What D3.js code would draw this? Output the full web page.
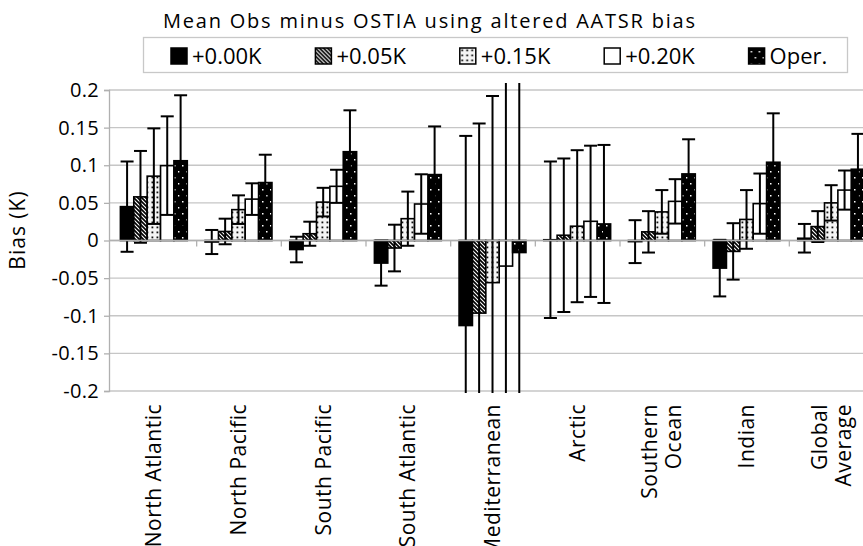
<!DOCTYPE html>
<html>
<head>
<meta charset="utf-8">
<script src="https://cdn.jsdelivr.net/npm/d3@7"></script>
<style>
  body { margin: 0; background: #fff; }
  text { font-family: "Open Sans", sans-serif; fill: #000; }
</style>
</head>
<body>
<svg id="chart"></svg>
<script>
// categories and tick labels
let categories = ["North Atlantic", "North Pacific", "South Pacific", "South Atlantic",
                  "Mediterranean", "Arctic", "Southern Ocean", "Indian", "Global Average"]
let categoryLines = [["North Atlantic"], ["North Pacific"], ["South Pacific"], ["South Atlantic"],
                     ["Mediterranean"], ["Arctic"], ["Southern", "Ocean"], ["Indian"], ["Global", "Average"]]
let yTicks = [-0.2, -0.15, -0.1, -0.05, 0, 0.05, 0.1, 0.15, 0.2]
let seriesNames = ["+0.00K", "+0.05K", "+0.15K", "+0.20K", "Oper."]

// mean bias per series (K)
let bias000 = [0.045, -0.002, -0.012, -0.030, -0.113, 0.001, -0.0015, -0.0367, 0.003]
let bias005 = [0.058, 0.012, 0.009, -0.010, -0.0965, 0.007, 0.0115, -0.0145, 0.0185]
let bias015 = [0.0855, 0.041, 0.051, 0.029, -0.056, 0.019, 0.038, 0.028, 0.050]
let bias020 = [0.0995, 0.055, 0.072, 0.0485, -0.034, 0.0255, 0.052, 0.049, 0.067]
let biasOper = [0.106, 0.077, 0.118, 0.0876, -0.016, 0.022, 0.0885, 0.104, 0.0947]

// error bar half-lengths per series (K)
let err000 = [0.060, 0.016, 0.017, 0.030, 0.252, 0.104, 0.0285, 0.0376, 0.019]
let err005 = [0.061, 0.017, 0.016, 0.031, 0.252, 0.102, 0.0275, 0.0375, 0.0205]
let err015 = [0.0635, 0.019, 0.019, 0.036, 0.248, 0.101, 0.029, 0.039, 0.0235]
let err020 = [0.0655, 0.021, 0.022, 0.0395, 0.30, 0.1005, 0.0295, 0.040, 0.026]
let errOper = [0.087, 0.037, 0.055, 0.064, 0.30, 0.105, 0.046, 0.065, 0.047]

let biasSets = [bias000, bias005, bias015, bias020, biasOper]
let errSets = [err000, err005, err015, err020, errOper]
let fills = ["#000", "url(#hatch)", "url(#dots)", "#fff", "url(#oper)"]

let width = 863
let height = 546
let plotLeft = 109, plotRight = 874, plotTop = 90, plotBottom = 391

let svg = d3.select("#chart").attr("width", width).attr("height", height)

// fill patterns
let defs = svg.append("defs")
let hatch = defs.append("pattern").attr("id", "hatch")
  .attr("patternUnits", "userSpaceOnUse").attr("width", 4).attr("height", 4)
hatch.append("rect").attr("width", 4).attr("height", 4).attr("fill", "#fff")
hatch.append("path").attr("d", "M-1,-1 L5,5 M-3,1 L1,5 M3,-1 L5,1")
  .attr("stroke", "#000").attr("stroke-width", 1.7)

let dots = defs.append("pattern").attr("id", "dots")
  .attr("patternUnits", "userSpaceOnUse").attr("width", 5).attr("height", 5)
dots.append("rect").attr("width", 5).attr("height", 5).attr("fill", "#f4f4f4")
dots.append("rect").attr("x", 1.5).attr("y", 1.5).attr("width", 1.8).attr("height", 1.8).attr("fill", "#111")

let oper = defs.append("pattern").attr("id", "oper")
  .attr("patternUnits", "userSpaceOnUse").attr("width", 8).attr("height", 12)
oper.append("rect").attr("width", 8).attr("height", 12).attr("fill", "#000")
oper.append("rect").attr("x", 2).attr("y", 3).attr("width", 1.5).attr("height", 1.5).attr("fill", "#fff")
oper.append("rect").attr("x", 6).attr("y", 9).attr("width", 1.5).attr("height", 1.5).attr("fill", "#fff")

defs.append("clipPath").attr("id", "plotclip")
  .append("rect").attr("x", plotLeft).attr("y", 83).attr("width", plotRight - plotLeft).attr("height", 310)

// scales
let x0 = d3.scaleBand().domain(categories).range([plotLeft + 3, plotRight]).padding(0)
let x1 = d3.scaleBand().domain(seriesNames).range([8.4, 75.3]).padding(0)
let y = d3.scaleLinear().domain([-0.2, 0.2]).range([plotBottom, plotTop])

// grid lines
svg.append("g").selectAll("line").data(yTicks).enter().append("line")
  .attr("x1", plotLeft).attr("x2", plotRight)
  .attr("y1", d => y(d)).attr("y2", d => y(d))
  .attr("stroke", "#c6c6c6").attr("stroke-width", 1.3)

// y axis
let yAxis = d3.axisLeft(y).tickValues(yTicks).tickSize(5).tickPadding(5)
  .tickFormat(d => String(+d.toFixed(2)))
let gy = svg.append("g").attr("transform", "translate(" + plotLeft + ",0)").call(yAxis)
gy.select(".domain").attr("stroke", "#b0b0b0").attr("stroke-width", 1.3)
gy.selectAll(".tick line").attr("stroke", "#b0b0b0").attr("stroke-width", 1.3)
gy.selectAll(".tick text").style("font-size", "20px").attr("fill", "#000")
  .style("font-family", "'Open Sans', sans-serif").style("letter-spacing", "0.3px")

// zero axis with category boundary ticks
svg.append("g").selectAll("line").data(categories.slice(1)).enter().append("line")
  .attr("x1", d => x0(d)).attr("x2", d => x0(d))
  .attr("y1", y(0)).attr("y2", y(0) + 6)
  .attr("stroke", "#b0b0b0").attr("stroke-width", 1.3)

// bars
let rows = []
categories.forEach((c, i) => {
  seriesNames.forEach((s, j) => {
    rows.push({cat: c, series: s, j: j, v: biasSets[j][i], e: errSets[j][i]})
  })
})

svg.append("g").selectAll("rect").data(rows).enter().append("rect")
  .attr("x", d => x0(d.cat) + x1(d.series))
  .attr("width", x1.bandwidth())
  .attr("y", d => y(Math.max(0, d.v)))
  .attr("height", d => Math.abs(y(d.v) - y(0)))
  .attr("fill", d => fills[d.j])
  .attr("stroke", "#000").attr("stroke-width", 1.6)

// error bars
let eb = svg.append("g").attr("clip-path", "url(#plotclip)")
  .attr("stroke", "#000").attr("stroke-width", 2)
let cx = d => x0(d.cat) + x1(d.series) + x1.bandwidth() / 2
eb.selectAll(".stem").data(rows).enter().append("line")
  .attr("x1", cx).attr("x2", cx)
  .attr("y1", d => y(d.v + d.e)).attr("y2", d => y(d.v - d.e))
eb.selectAll(".capTop").data(rows).enter().append("line")
  .attr("x1", d => cx(d) - 6.5).attr("x2", d => cx(d) + 6.5)
  .attr("y1", d => y(d.v + d.e)).attr("y2", d => y(d.v + d.e))
eb.selectAll(".capBot").data(rows).enter().append("line")
  .attr("x1", d => cx(d) - 6.5).attr("x2", d => cx(d) + 6.5)
  .attr("y1", d => y(d.v - d.e)).attr("y2", d => y(d.v - d.e))

// zero line
svg.append("line").attr("x1", plotLeft).attr("x2", plotRight)
  .attr("y1", y(0)).attr("y2", y(0))
  .attr("stroke", "#b0b0b0").attr("stroke-width", 1.3)

// category labels (rotated)
let lab = svg.append("g").selectAll("text").data(categories).enter().append("text")
  .attr("transform", (d, i) => {
    let n = categoryLines[i].length
    let cxl = x0(d) + x0.bandwidth() / 2 + 7 - (n - 1) * 12
    return "translate(" + cxl + ",404) rotate(-90)"
  })
  .attr("text-anchor", "end")
  .style("font-size", "21px").style("letter-spacing", "0.5px")
lab.each(function(d, i) {
  categoryLines[i].forEach((line, k) => {
    d3.select(this).append("tspan").attr("x", 0).attr("dy", k === 0 ? 0 : 24).text(line)
  })
})

// y axis title
svg.append("text").attr("transform", "translate(25,230) rotate(-90)")
  .attr("text-anchor", "middle").style("font-size", "21px").style("letter-spacing", "1px")
  .text("Bias (K)")

// title
svg.append("text").attr("x", 163).attr("y", 28)
  .attr("textLength", 532).attr("lengthAdjust", "spacing")
  .style("font-size", "20px").text("Mean Obs minus OSTIA using altered AATSR bias")

// legend
svg.append("rect").attr("x", 143.5).attr("y", 37.5).attr("width", 704).attr("height", 35)
  .attr("fill", "#fff").attr("stroke", "#c8c8c8").attr("stroke-width", 1.3)
let lg = svg.append("g").selectAll("g").data(seriesNames).enter().append("g")
  .attr("transform", (d, j) => "translate(" + (171 + j * 144.4) + ",48)")
lg.append("rect").attr("width", 16).attr("height", 16)
  .attr("fill", (d, j) => fills[j]).attr("stroke", "#000").attr("stroke-width", 1.5)
lg.append("text").attr("x", 21).attr("y", 16).style("font-size", "22px").text(d => d)
</script>
</body>
</html>
